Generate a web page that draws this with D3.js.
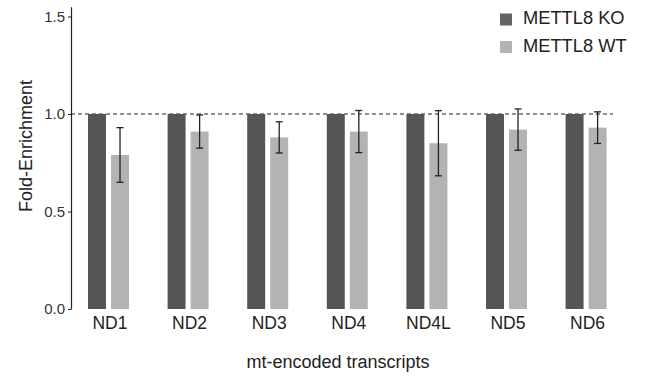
<!DOCTYPE html>
<html>
<head>
<meta charset="utf-8">
<script src="https://cdn.jsdelivr.net/npm/d3@7"></script>
<style>
  body { margin: 0; background: #fff; }
  svg { display: block; font-family: "Liberation Sans", Arial, sans-serif; }
  .yAxis .domain { stroke: #222; stroke-width: 1.2; }
  .yAxis line { stroke: #222; }
  .yAxis text { fill: #333; font-size: 15px; }
</style>
</head>
<body>
<div id="chart"></div>
<script>
const categories = ['ND1', 'ND2', 'ND3', 'ND4', 'ND4L', 'ND5', 'ND6'];
const seriesNames = ['METTL8 KO', 'METTL8 WT'];
const koValues = [1, 1, 1, 1, 1, 1, 1];
const wtValues = [0.79, 0.91, 0.88, 0.91, 0.85, 0.92, 0.93];
const wtErrors = [0.14, 0.085, 0.08, 0.108, 0.167, 0.106, 0.081];
const yTicks = [0, 0.5, 1.0, 1.5];

const width = 647;
const height = 378;

const svg = d3.select('#chart')
  .append('svg')
  .attr('width', width)
  .attr('height', height);

const y = d3.scaleLinear()
  .domain([0, 1.55])
  .range([309, 6.75]);

const x0 = d3.scaleBand()
  .domain(categories)
  .range([71, 623.6])
  .paddingInner(0.485)
  .paddingOuter(0.2136);

const x1 = d3.scaleBand()
  .domain(['KO', 'WT'])
  .range([0, x0.bandwidth()])
  .paddingInner(0.22);

const colors = { KO: '#555555', WT: '#b3b3b3' };

const data = categories.map((c, i) => ({
  cat: c,
  ko: koValues[i],
  wt: wtValues[i],
  err: wtErrors[i],
}));

// y axis
const yAxis = d3.axisLeft(y)
  .tickValues(yTicks)
  .tickFormat(d3.format('.1f'))
  .tickSizeInner(3)
  .tickSizeOuter(0)
  .tickPadding(3);

svg.append('g')
  .attr('class', 'yAxis')
  .attr('transform', 'translate(71, 0)')
  .call(yAxis);

// reference line at 1.0
svg.append('line')
  .attr('x1', 71)
  .attr('x2', 613)
  .attr('y1', y(1))
  .attr('y2', y(1))
  .attr('stroke', '#222')
  .attr('stroke-width', 1.1)
  .attr('stroke-dasharray', '4,3');

const groups = svg.append('g')
  .selectAll('g')
  .data(data)
  .join('g')
  .attr('transform', d => `translate(${x0(d.cat)}, 0)`);

groups.append('rect')
  .attr('x', x1('KO'))
  .attr('y', d => y(d.ko))
  .attr('width', x1.bandwidth())
  .attr('height', d => y(0) - y(d.ko))
  .attr('fill', colors.KO);

groups.append('rect')
  .attr('x', x1('WT'))
  .attr('y', d => y(d.wt))
  .attr('width', x1.bandwidth())
  .attr('height', d => y(0) - y(d.wt))
  .attr('fill', colors.WT);

// error bars on WT
const cx = x1('WT') + x1.bandwidth() / 2;
const capW = 3.5;
const err = groups.append('g')
  .attr('stroke', '#222')
  .attr('stroke-width', 1.3);

err.append('line')
  .attr('x1', cx).attr('x2', cx)
  .attr('y1', d => y(d.wt + d.err))
  .attr('y2', d => y(d.wt - d.err));

err.append('line')
  .attr('x1', cx - capW).attr('x2', cx + capW)
  .attr('y1', d => y(d.wt + d.err))
  .attr('y2', d => y(d.wt + d.err));

err.append('line')
  .attr('x1', cx - capW).attr('x2', cx + capW)
  .attr('y1', d => y(d.wt - d.err))
  .attr('y2', d => y(d.wt - d.err));

// category labels
svg.append('g')
  .selectAll('text')
  .data(categories)
  .join('text')
  .attr('x', d => x0(d) + x0.bandwidth() / 2 + 1.5)
  .attr('y', 329)
  .attr('text-anchor', 'middle')
  .attr('fill', '#222')
  .attr('font-size', 17.5)
  .text(d => d);

// axis titles
svg.append('text')
  .attr('transform', 'translate(32, 146) rotate(-90)')
  .attr('text-anchor', 'middle')
  .attr('fill', '#222')
  .attr('font-size', 18)
  .text('Fold-Enrichment');

svg.append('text')
  .attr('x', 338)
  .attr('y', 368)
  .attr('text-anchor', 'middle')
  .attr('fill', '#222')
  .attr('font-size', 18)
  .text('mt-encoded transcripts');

// legend
const legend = svg.append('g')
  .selectAll('g')
  .data(seriesNames)
  .join('g')
  .attr('transform', (d, i) => `translate(500, ${13.5 + i * 27.5})`);

legend.append('rect')
  .attr('width', 12)
  .attr('height', 12)
  .attr('fill', (d, i) => (i === 0 ? '#636363' : colors.WT));

legend.append('text')
  .attr('x', 23)
  .attr('y', 10.5)
  .attr('fill', '#222')
  .attr('font-size', 18.3)
  .text(d => d);
</script>
</body>
</html>
